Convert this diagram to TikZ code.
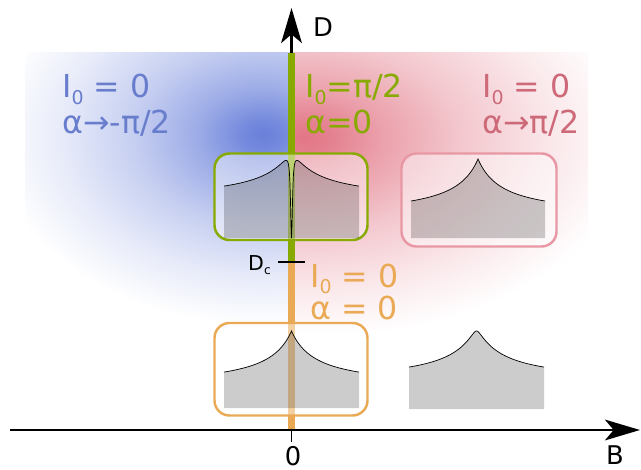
\documentclass[tikz,border=0pt]{standalone}
\usepackage{fontspec}
\setmainfont{DejaVu Sans}
\usepackage{graphicx}
\usepackage{xcolor}
\usetikzlibrary{arrows.meta, positioning}

\definecolor{bluec}{RGB}{105,128,218}
\definecolor{redc}{RGB}{226,118,134}
\definecolor{bluetxt}{RGB}{105,125,205}
\definecolor{redtxt}{RGB}{205,105,120}
\definecolor{grn}{RGB}{136,170,0}
\definecolor{org}{RGB}{234,170,85}
\definecolor{pnk}{RGB}{232,152,164}
\colorlet{blueA}{bluec!92!white}
\colorlet{blueB}{bluec!66!white}
\colorlet{blueC}{bluec!38!white}
\colorlet{blueD}{bluec!15!white}
\colorlet{redA}{redc!92!white}
\colorlet{redB}{redc!68!white}
\colorlet{redC}{redc!40!white}
\colorlet{redD}{redc!16!white}

% path bbox is mapped on the inner 25bp, so the glow ends there
\pgfdeclareradialshading{blueglow}{\pgfpoint{0bp}{0bp}}{color(0bp)=(bluec); color(2bp)=(blueA); color(6bp)=(blueB); color(12bp)=(blueC); color(19bp)=(blueD); color(25bp)=(white); color(50bp)=(white)}
\pgfdeclareradialshading{redglow}{\pgfpoint{0bp}{0bp}}{color(0bp)=(redc); color(2bp)=(redA); color(6bp)=(redB); color(12bp)=(redC); color(19bp)=(redD); color(25bp)=(white); color(50bp)=(white)}

\newcommand{\sbs}[1]{\raisebox{-0.22em}{\scalebox{0.6}{#1}}}

\begin{document}
\begin{tikzpicture}[
    x=0.3mm, y=-0.3mm,
    samples=271,
    declare function={cusp(\u)=(1/(1+abs(\u)/25)-0.272)/0.728;
                      rcusp(\u)=(1/(1+sqrt(\u*\u+9)/25)-0.2715)/0.6215;
                      dip(\u)=(\u*\u)/(\u*\u+1.44);},
    axis/.style={-{Stealth[length=10.5mm, width=6.2mm, inset=2.6mm]}, line width=2.5pt},
    vline/.style={line width=6.8pt, draw=#1},
    sbox/.style={draw=#1, line width=2.1pt, rounded corners=4.5mm, fill=white,
                 fill opacity=0.45, minimum width=45.9mm},
    spec/.style={fill=black, fill opacity=0.2},
    curve/.style={line width=0.6pt},
    lbl/.style={font=\fontsize{27}{32}\selectfont, inner sep=0pt, anchor=base west, text=#1},
    ax/.style={font=\fontsize{22}{26}\selectfont, inner sep=0pt}
]
\useasboundingbox (0,0) rectangle (641,470);

% Background glows
\begin{scope}
  \clip (25,53) rectangle (291.5,330);
  \shade[shading=blueglow] (-7,-55) rectangle (533,325);
\end{scope}
\begin{scope}
  \clip (291.5,53) rectangle (588,330);
  \shade[shading=redglow] (-25,-62) rectangle (635,338);
\end{scope}

% Axes
\coordinate (orig) at (291.5,430);
\coordinate (dtop) at (291.5,8);
\coordinate (bleft) at (10,430);
\coordinate (bright) at (640,430);
\coordinate (dc) at (291.5,262);
\coordinate (gtop) at (291.5,53);
\coordinate (zt) at (291.5,442);
\coordinate (dcl) at (278,262);
\coordinate (dcr) at (305,262);
\draw[axis] (orig) -- (dtop);
\draw[vline=grn] (dc) -- (gtop);
\draw[vline=org] (orig) -- (dc);
\draw[axis] (bleft) -- (bright);
\draw[line width=0.9pt] (orig) -- (zt);
\draw[line width=1.7pt] (dcl) -- (dcr);

\node[ax, anchor=base west] (dlbl) at (313,37) {D};
\node[ax, anchor=base west] (blbl) at (606,464) {B};
\node[ax, anchor=base] (zlbl) at (293,465) {0};
\node[ax, anchor=base west, font=\fontsize{17.5}{20}\selectfont] (dclbl) at (248,270) {D\sbs{c}};

% Boxes
\node[sbox=grn, minimum height=25.95mm] (gbox) at (291,196.75) {};
\node[sbox=pnk, minimum width=46.5mm, minimum height=27.9mm] (rbox) at (479,200) {};
\node[sbox=org, minimum height=27.75mm] (obox) at (291,369.25) {};

% Spectra
\fill[spec] (224,238) -- plot[domain=-67.5:67.5] ({291.5+\x},{238-(52+39*cusp(\x))*dip(\x)}) -- (359,238) -- cycle;
\draw[curve] plot[domain=-67.5:67.5] ({291.5+\x},{238-(52+39*cusp(\x))*dip(\x)});
\fill[spec] (411,238) -- plot[domain=-67:67] ({478+\x},{201-42*cusp(\x)}) -- (545,238) -- cycle;
\draw[curve] plot[domain=-67:67] ({478+\x},{201-42*cusp(\x)});
\fill[spec] (224,408) -- plot[domain=-67.5:67.5] ({291.5+\x},{372-41*cusp(\x)}) -- (359,408) -- cycle;
\draw[curve] plot[domain=-67.5:67.5] ({291.5+\x},{372-41*cusp(\x)});
\fill[spec] (409,409) -- plot[domain=-67.5:67.5] ({476.5+\x},{367-36*rcusp(\x)}) -- (544,409) -- cycle;
\draw[curve] plot[domain=-67.5:67.5] ({476.5+\x},{367-36*rcusp(\x)});

% Labels
\node[lbl=bluetxt] (bI) at (62,98) {I\sbs{0} = 0};
\node[lbl=bluetxt] (ba) at (62,134) {α→-π/2};
\node[lbl=grn] (gI) at (305,98) {I\sbs{0}=π/2};
\node[lbl=grn] (ga) at (305,134) {α=0};
\node[lbl=redtxt] (rI) at (482,98) {I\sbs{0} = 0};
\node[lbl=redtxt] (ra) at (482,134) {α→π/2};
\node[lbl=org] (oI) at (310,287) {I\sbs{0} = 0};
\node[lbl=org] (oa) at (310,319) {α = 0};
\end{tikzpicture}
\end{document}
